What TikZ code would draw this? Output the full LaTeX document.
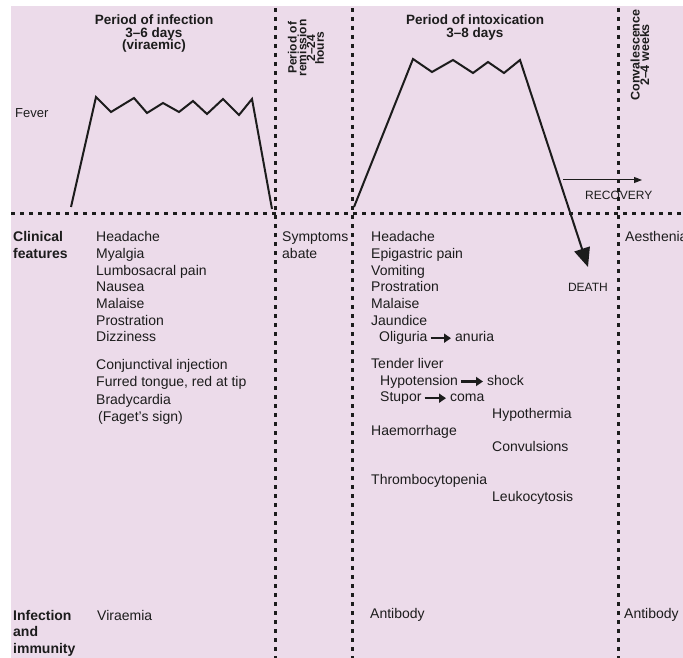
\documentclass[tikz,border=0pt]{standalone}
\usepackage{fontspec}
\setmainfont{Liberation Sans}
\usetikzlibrary{arrows.meta}
\definecolor{bgpink}{RGB}{236,219,234}
\definecolor{ink}{RGB}{28,28,28}
\begin{document}
\begin{tikzpicture}[x=1pt,y=-1pt,
  body/.style={font=\fontsize{14}{16}\selectfont, text=ink, inner sep=0pt, anchor=base west, text height=10pt, text depth=3pt},
  lbl/.style={body, font=\fontsize{14}{16}\selectfont\bfseries},
  hd/.style={font=\fontsize{13.5}{12.5}\selectfont\bfseries, text=ink, inner sep=0pt, anchor=base},
  rot/.style={rotate=90, align=center, inner sep=0pt, text=ink},
  sm/.style={font=\fontsize{12}{14}\selectfont, text=ink, inner sep=0pt, anchor=base west},
  dots/.style={line width=3pt, dash pattern=on 4pt off 5pt, draw=ink},
  fever/.style={line width=2pt, line join=miter, draw=ink},
  txtarrow/.style={line width=2.4pt, -{Triangle[length=7pt,width=9pt]}, draw=ink, shorten <=3pt, shorten >=4pt},
]
\useasboundingbox (0,0) rectangle (683,658);
\fill[white] (0,0) rectangle (683,658);
\fill[bgpink] (11,6) rectangle (683,658);

% grid of dotted lines
\coordinate (hL) at (11,213);
\coordinate (hR) at (683,213);
\coordinate (v1t) at (275,8);   \coordinate (v1b) at (275,658);
\coordinate (v2t) at (352,8);   \coordinate (v2b) at (352,658);
\coordinate (v3t) at (618,8);   \coordinate (v3b) at (618,658);
\draw[dots] (hL) -- (hR);
\draw[dots] (v1t) -- (v1b);
\draw[dots] (v2t) -- (v2b);
\draw[dots] (v3t) -- (v3b);

% headers
\node[hd] (hi1) at (154,24.5) {Period of infection};
\node[hd] (hi2) at (154,38) {3--6 days};
\node[hd] (hi3) at (154,50) {(viraemic)};
\node[hd] (ht1) at (475,24.5) {Period of intoxication};
\node[hd] (ht2) at (475,38) {3--8 days};
\node[rot, font=\fontsize{12}{8.8}\selectfont\bfseries] (hrem) at (306,48) {Period of\\remission\\2--24\\hours};
\node[rot, font=\fontsize{12.5}{9.5}\selectfont\bfseries] (hcon) at (640,55) {Convalescence\\2--4 weeks};

% fever
\node[body, font=\fontsize{13}{15}\selectfont] (fever) at (15,118) {Fever};
\draw[fever] (71,207) -- (96,97) -- (111,112) -- (134,98) -- (147,113) -- (163,103) -- (179,112) -- (193,101) -- (207,114) -- (223,99) -- (239,115) -- (252,99) -- (272,209);
\coordinate (deathtip) at (588,267);
\draw[fever, -{Triangle[length=19pt,width=16pt]}] (354,207) -- (413,59) -- (432,72) -- (453,60) -- (473,73) -- (488,62) -- (504,73) -- (520,60) -- (deathtip);
\coordinate (recA) at (563,180);
\coordinate (recB) at (642,180);
\draw[line width=1pt, draw=ink, -{Triangle[length=8pt,width=6pt]}] (recA) -- (recB);
\node[sm] (recovery) at (585,200) {RECOVERY};
\node[sm, anchor=base east] (death) at (608,291) {DEATH};

% row labels
\node[lbl] (cf1) at (13,241.7) {Clinical};
\node[lbl] (cf2) at (13,258.3) {features};
\node[lbl] (ii1) at (13,620) {Infection};
\node[lbl] (ii2) at (13,636.5) {and};
\node[lbl] (ii3) at (13,653) {immunity};

% infection column
\foreach \t [count=\i] in {Headache, Myalgia, Lumbosacral pain, Nausea, Malaise, Prostration, Dizziness}
  \node[body] (a\i) at (96,{241.7+16.67*(\i-1)}) {\t};
\node[body] (b1) at (96,369) {Conjunctival injection};
\node[body] (b2) at (96,386.5) {Furred tongue, red at tip};
\node[body] (b3) at (96,404) {Bradycardia};
\node[body] (b4) at (98,421.5) {(Faget's sign)};
\node[body] (vir) at (97,620) {Viraemia};

% remission column
\node[body] (s1) at (282,241.7) {Symptoms};
\node[body] (s2) at (282,258.3) {abate};

% intoxication column
\foreach \t [count=\i] in {Headache, Epigastric pain, Vomiting, Prostration, Malaise, Jaundice}
  \node[body] (c\i) at (371,{241.7+16.67*(\i-1)}) {\t};
\node[body] (olig) at (379,341.7) {Oliguria};
\node[body] (anur) at (455,341.7) {anuria};
\draw[txtarrow] (olig.east) -- (anur.west);
\node[body] (tend) at (371,368.3) {Tender liver};
\node[body] (hypo) at (380,385) {Hypotension};
\node[body] (shock) at (487,385) {shock};
\draw[txtarrow] (hypo.east) -- (shock.west);
\node[body] (stup) at (380,401.7) {Stupor};
\node[body] (coma) at (450,401.7) {coma};
\draw[txtarrow] (stup.east) -- (coma.west);
\node[body] (hyth) at (492,418.3) {Hypothermia};
\node[body] (haem) at (371,435) {Haemorrhage};
\node[body] (conv) at (492,451.7) {Convulsions};
\node[body] (thro) at (371,484.3) {Thrombocytopenia};
\node[body] (leuk) at (492,501) {Leukocytosis};
\node[body] (ab1) at (370,618) {Antibody};

% convalescence column
\node[body] (aes) at (625,241.7) {Aesthenia};
\node[body] (ab2) at (624,618) {Antibody};
\end{tikzpicture}
\end{document}
